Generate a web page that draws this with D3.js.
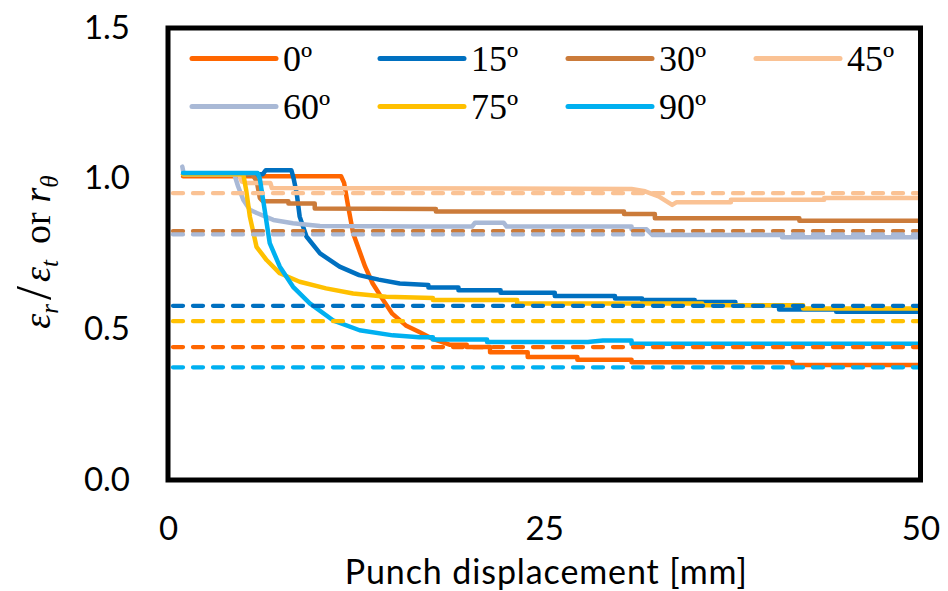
<!DOCTYPE html>
<html>
<head>
<meta charset="utf-8">
<script src="https://cdn.jsdelivr.net/npm/d3@7/dist/d3.min.js"></script>
<style>
  body { margin: 0; background: #fff; }
  .tick-label { font-family: Lato, "Open Sans", sans-serif; font-size: 33px; fill: #000; }
  .axis-title { font-family: Lato, "Open Sans", sans-serif; font-size: 34px; letter-spacing: 0.9px; fill: #000; }
  .legend-label { font-family: "Liberation Serif", "Times New Roman", serif; font-size: 36px; fill: #000; }
  .y-title { font-family: "Liberation Serif", "Times New Roman", serif; fill: #000; }
</style>
</head>
<body>
<div id="chart"></div>
<script>
// angle labels and colours
var angles = ['0º', '15º', '30º', '45º', '60º', '75º', '90º']
var colors = ['#FF6600', '#0070C0', '#CB7B3A', '#FAC294', '#A9B9D6', '#FFC000', '#00B0F0']

// r-value of each direction (dashed lines)
var rValues = [0.441, 0.578, 0.826, 0.952, 0.815, 0.527, 0.374]

// measured ratio eps_r / eps_t vs punch displacement [mm]
var s0 = [[1.0,1.008],[11.5,1.008],[11.7,0.986],[11.97,0.908],[12.3,0.819],[12.7,0.763],[13.1,0.708],[13.6,0.652],
  [14.3,0.597],[14.9,0.552],[15.8,0.513],[16.7,0.491],[17.6,0.468],[18.7,0.449],[19.85,0.449],[19.85,0.441],
  [21.4,0.441],[21.4,0.424],[23.9,0.424],[23.9,0.408],[27.2,0.408],[27.2,0.399],[30.8,0.399],[30.8,0.391],
  [41.5,0.391],[41.5,0.382],[50,0.382]]
var s15 = [[1.0,1.015],[6.3,1.015],[6.5,1.028],[8.2,1.028],[8.35,1.0],[8.55,0.952],[8.75,0.874],[9.2,0.808],
  [10.1,0.752],[11.4,0.708],[12.7,0.68],[14.0,0.665],[15.4,0.652],[17.3,0.647],[17.3,0.639],[19.3,0.639],
  [19.3,0.63],[22.1,0.63],[22.1,0.621],[25.7,0.621],[25.7,0.611],[29.7,0.611],[29.7,0.602],[31.5,0.602],
  [31.5,0.597],[35.0,0.597],[35.0,0.591],[37.7,0.591],[37.7,0.58],[40.6,0.58],[40.6,0.566],[44.4,0.566],
  [44.4,0.558],[50,0.558]]
var s30 = [[1.0,1.015],[5.6,1.015],[5.9,0.99],[6.1,0.936],[6.3,0.925],[8.0,0.925],[8.0,0.918],[9.75,0.918],
  [9.75,0.901],[17.8,0.899],[17.8,0.891],[30.3,0.891],[30.3,0.883],[32.35,0.883],[32.35,0.869],[41.95,0.869],
  [41.95,0.86],[50,0.86]]
var s45 = [[1.0,1.015],[4.7,1.015],[4.9,0.99],[5.2,0.986],[6.8,0.986],[6.9,0.969],[30.8,0.966],[31.7,0.958],
  [32.6,0.941],[33.5,0.913],[33.8,0.922],[37.4,0.922],[37.4,0.93],[43.6,0.93],[43.6,0.936],[50,0.936]]
var s60 = [[0.95,1.04],[1.05,1.015],[4.4,1.015],[4.66,0.974],[5.0,0.93],[5.44,0.897],[5.9,0.886],[7.0,0.863],
  [8.3,0.852],[10.1,0.843],[16.7,0.841],[20.2,0.841],[20.4,0.854],[22.3,0.854],[22.5,0.841],[30.8,0.841],
  [30.8,0.832],[31.8,0.832],[32.2,0.813],[40.8,0.813],[40.8,0.806],[50,0.806]]
var s75 = [[1.0,1.015],[5.0,1.015],[5.2,0.96],[5.44,0.874],[5.88,0.774],[6.55,0.73],[7.43,0.686],[8.75,0.658],
  [10.5,0.636],[12.3,0.619],[14.5,0.608],[17.6,0.604],[17.6,0.597],[23.2,0.597],[23.2,0.586],[35.5,0.586],
  [35.5,0.58],[42.2,0.58],[42.2,0.569],[50,0.569]]
var s90 = [[1.0,1.019],[5.95,1.019],[6.1,1.0],[6.32,0.93],[6.76,0.786],[7.43,0.708],[8.31,0.641],[9.42,0.586],
  [10.96,0.53],[12.73,0.497],[14.94,0.48],[16.7,0.474],[17.6,0.474],[17.6,0.466],[21.2,0.466],[21.2,0.458],
  [27.9,0.458],[28.9,0.463],[30.8,0.463],[30.8,0.452],[50,0.452]]
var series = [s0, s15, s30, s45, s60, s75, s90]

var xTicks = [0, 25, 50]
var yTicks = [0, 0.5, 1.0, 1.5]

var cfg = {
  WIDTH: 948,
  HEIGHT: 591,
  margin: { top: 28, left: 168, bottom: 111, right: 27.5 }
}
cfg.effectiveWidth = cfg.WIDTH - cfg.margin.left - cfg.margin.right
cfg.effectiveHeight = cfg.HEIGHT - cfg.margin.top - cfg.margin.bottom

function translate(x, y) {
  return 'translate(' + x + ',' + y + ')'
}

var svg = d3.select('#chart').append('svg')
  .attr('width', cfg.WIDTH)
  .attr('height', cfg.HEIGHT)

svg.append('rect')
  .attr('width', cfg.WIDTH)
  .attr('height', cfg.HEIGHT)
  .attr('fill', '#fff')

var xScale = d3.scaleLinear().domain([0, 50]).range([0, cfg.effectiveWidth])
var yScale = d3.scaleLinear().domain([0, 1.5]).range([cfg.effectiveHeight, 0])

var chartG = svg.append('g')
  .attr('transform', translate(cfg.margin.left, cfg.margin.top))

// axes: labels only, no tick marks or domain line
var xAxis = d3.axisBottom(xScale).tickValues(xTicks).tickSize(0)
var yAxis = d3.axisLeft(yScale).tickValues(yTicks).tickSize(0).tickFormat(d3.format('.1f'))

var xAxisG = chartG.append('g')
  .attr('transform', translate(0, cfg.effectiveHeight))
  .call(xAxis)
var yAxisG = chartG.append('g').call(yAxis)

;[xAxisG, yAxisG].forEach(function(g) {
  g.select('.domain').remove()
  g.attr('font-size', null).attr('font-family', null)
  g.selectAll('text')
    .attr('class', 'tick-label')
    .attr('fill', null)
})
xAxisG.selectAll('text').attr('dy', 0).attr('y', 60)
yAxisG.selectAll('text').attr('dy', 0).attr('y', 10).attr('x', -38)

var line = d3.line()
  .x(function(d) { return xScale(d[0]) })
  .y(function(d) { return yScale(d[1]) })

// measured curves
chartG.selectAll('path.curve')
  .data(series)
  .enter()
  .append('path')
  .attr('class', 'curve')
  .attr('d', line)
  .attr('fill', 'none')
  .attr('stroke', function(d, i) { return colors[i] })
  .attr('stroke-width', 4.5)
  .attr('stroke-linejoin', 'round')
  .attr('stroke-linecap', 'round')

// r-value reference lines
chartG.selectAll('line.r-line')
  .data(rValues)
  .enter()
  .append('line')
  .attr('class', 'r-line')
  .attr('x1', xScale(0) + 5)
  .attr('x2', xScale(50))
  .attr('y1', function(d) { return yScale(d) })
  .attr('y2', function(d) { return yScale(d) })
  .attr('stroke', function(d, i) { return colors[i] })
  .attr('stroke-width', 4.3)
  .attr('stroke-dasharray', '10,10')
  .attr('stroke-linecap', 'round')

// plot frame
chartG.append('rect')
  .attr('width', cfg.effectiveWidth)
  .attr('height', cfg.effectiveHeight)
  .attr('fill', 'none')
  .attr('stroke', '#000')
  .attr('stroke-width', 5)

// legend, 4 per row
var legend = svg.selectAll('g.legend-item')
  .data(angles)
  .enter()
  .append('g')
  .attr('class', 'legend-item')
  .attr('transform', function(d, i) {
    return translate(192 + (i % 4) * 188, 58.5 + Math.floor(i / 4) * 48)
  })

legend.append('line')
  .attr('x1', 0)
  .attr('x2', 84)
  .attr('stroke', function(d, i) { return colors[i] })
  .attr('stroke-width', 5)
  .attr('stroke-linecap', 'round')

legend.append('text')
  .attr('class', 'legend-label')
  .attr('x', 91)
  .attr('y', 12)
  .text(function(d) { return d })

// axis titles
svg.append('text')
  .attr('class', 'axis-title')
  .attr('x', cfg.margin.left + cfg.effectiveWidth / 2 + 2)
  .attr('y', 584)
  .attr('text-anchor', 'middle')
  .text('Punch displacement [mm]')

var yTitle = svg.append('text')
  .attr('class', 'y-title')
  .attr('transform', translate(50, 252) + ' rotate(-90)')
  .attr('text-anchor', 'middle')
  .style('font-size', '38px')

var parts = [
  { t: 'ε', italic: true },
  { t: 'r', italic: true, sub: true },
  { t: '/', size: 50, dx: 4 },
  { t: 'ε', italic: true, dx: 4 },
  { t: 't', italic: true, sub: true },
  { t: 'or', dx: 16 },
  { t: 'r', italic: true, dx: 10 },
  { t: 'θ', italic: true, sub: true }
]
var shift = 0
parts.forEach(function(p) {
  var dy = p.sub ? 8 - shift : -shift
  shift = p.sub ? 8 : 0
  yTitle.append('tspan')
    .attr('dy', dy)
    .attr('dx', p.dx || 0)
    .style('font-style', p.italic ? 'italic' : 'normal')
    .style('font-size', p.sub ? '25px' : (p.size ? p.size + 'px' : null))
    .text(p.t)
})
</script>
</body>
</html>
